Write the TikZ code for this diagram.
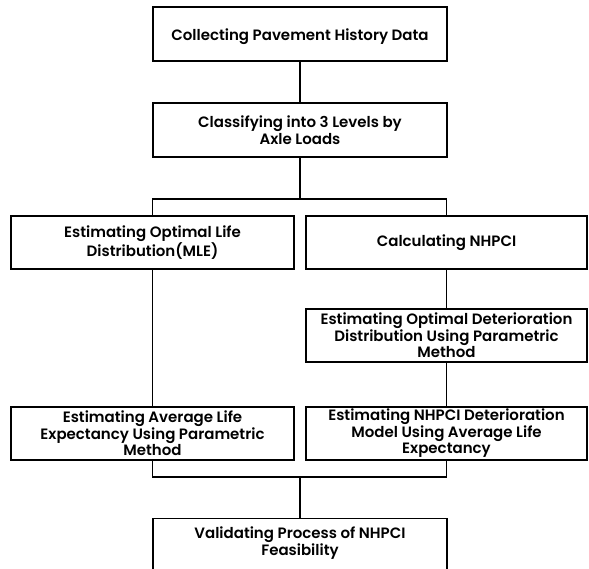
\documentclass[tikz,border=0pt]{standalone}
\usepackage{fontspec}
\setmainfont{Poppins SemiBold}
\begin{document}
\begin{tikzpicture}[x=1pt,y=-1pt,
  box/.style={draw, line width=1.4pt, rectangle, inner sep=0pt, align=center,
    font=\fontsize{15}{16.5}\selectfont},
  wire/.style={line width=1.4pt}]
\useasboundingbox (0,0) rectangle (589,569);
\node[box, minimum width=294, minimum height=54] (b1) at (300,34) {\raisebox{-3pt}[\height][\depth]{Collecting Pavement History Data}};
\node[box, minimum width=294, minimum height=54] (b2) at (300,130) {Classifying into 3 Levels by\\Axle Loads};
\node[box, minimum width=283, minimum height=53] (b3) at (152.5,242.5) {Estimating Optimal Life\\Distribution(MLE)};
\node[box, minimum width=281, minimum height=53] (b4) at (446.5,242.5) {Calculating NHPCI};
\node[box, minimum width=281, minimum height=53] (b6) at (446.5,335.5) {Estimating Optimal Deterioration\\Distribution Using Parametric\\Method};
\node[box, minimum width=283, minimum height=53] (b5) at (152.5,433.5) {Estimating Average Life\\Expectancy Using Parametric\\Method};
\node[box, minimum width=281, minimum height=53] (b7) at (446.5,433.5) {Estimating NHPCI Deterioration\\Model Using Average Life\\Expectancy};
\node[box, minimum width=294, minimum height=72, anchor=north] (b8) at (300,518) {};
\node[font=\fontsize{15}{16.5}\selectfont, align=center, inner sep=0pt] (b8t) at (300,543) {Validating Process of NHPCI\\Feasibility};
\coordinate (j1) at (300,199);
\coordinate (j2) at (300,477);
\draw[wire] (b1.south) -- (b2.north);
\draw[wire] (b2.south) -- (j1);
\draw[wire] (b3.north) -- (b3.north |- j1) -- (b4.north |- j1) -- (b4.north);
\draw[wire] (b3.south) -- (b5.north);
\draw[wire] (b4.south) -- (b6.north);
\draw[wire] (b6.south) -- (b7.north);
\draw[wire] (b5.south) -- (b5.south |- j2) -- (b7.south |- j2) -- (b7.south);
\draw[wire] (j2) -- (b8.north);
\end{tikzpicture}
\end{document}
